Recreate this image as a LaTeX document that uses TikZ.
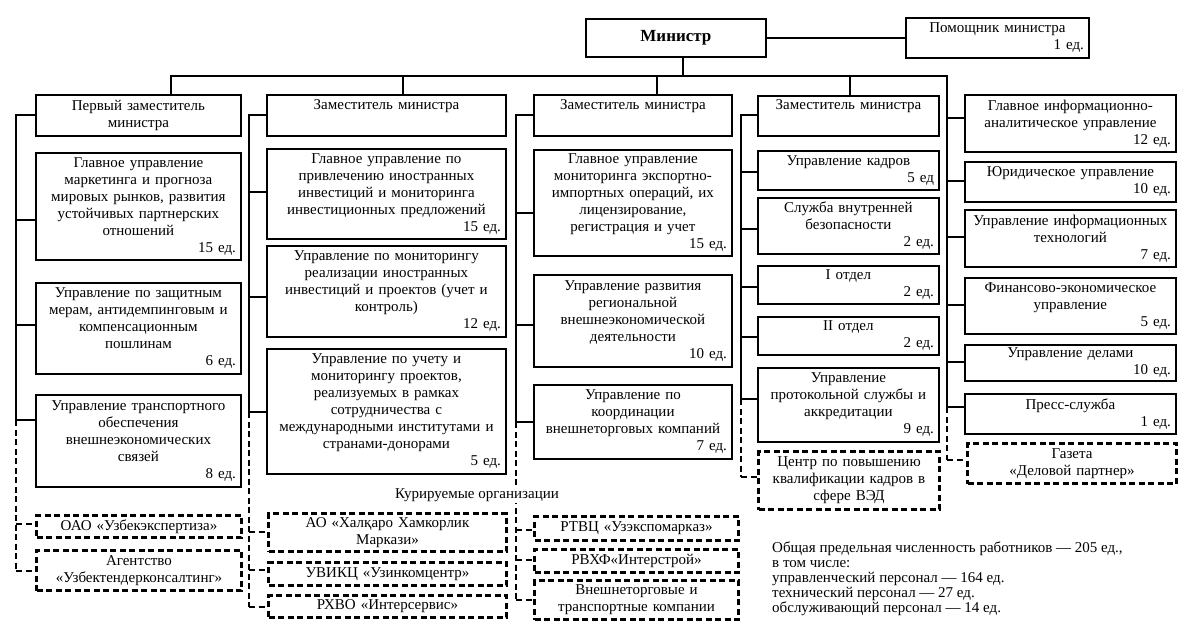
\documentclass[tikz,border=0pt]{standalone}
\usepackage{fontspec}
\setmainfont{Liberation Serif}
\newcommand\ubox[7][bx]{\pgfmathsetmacro\myBW{#4-#2}\pgfmathsetmacro\myBH{#5-#3}\pgfmathsetmacro\myTW{#4-#2-10}%
  \node[#1, minimum width=\myBW pt, minimum height=\myBH pt, text width=\myTW pt] (#6) at (#2,#3) {#7};}
\newcommand\edl[1]{\\\hspace*{0pt plus 1filll}#1}
\newcommand\hook[4][ln]{\coordinate (#2) at (#3); \draw[#1] (#2) -- (#2 -| #4.west);}
\begin{document}
\begin{tikzpicture}[x=1pt,y=-1pt]
\tikzset{
 ln/.style={line width=1.8pt, line cap=rect},
 dl/.style={line width=2.6pt, dash pattern=on 6pt off 3.5pt},
 bx/.style={draw, line width=1.8pt, anchor=north west, inner sep=0pt, align=center, font=\fontsize{15}{17}\selectfont},
 dbx/.style={bx, line width=3pt, dash pattern=on 6pt off 3.5pt},
}
\fill[white] (0,0) rectangle (1193,640);
\useasboundingbox (0,0) rectangle (1193,640);

% top
\ubox{585}{18}{765}{56}{min}{\fontsize{17}{19}\selectfont\bfseries Министр}
\ubox{905}{17}{1088}{57}{pom}{Помощник министра\edl{1 ед.}}
\draw[ln] (min.east) -- (pom.west);

% column 1
\ubox{35}{94}{240}{135}{h1}{Первый заместитель\\министра}
\ubox{35}{152}{240}{259}{b11}{Главное управление\\маркетинга и прогноза\\мировых рынков, развития\\устойчивых партнерских\\отношений\edl{15 ед.}}
\ubox{35}{282}{240}{373}{b12}{Управление по защитным\\мерам, антидемпинговым и\\компенсационным\\пошлинам\edl{6 ед.}}
\ubox{35}{394}{240}{486}{b13}{Управление транспортного\\обеспечения\\внешнеэкономических\\связей\edl{8 ед.}}
\ubox[dbx]{35}{514}{240}{536}{d11}{ОАО «Узбекэкспертиза»}
\ubox[dbx]{35}{549}{240}{589}{d12}{Агентство\\«Узбектендерконсалтинг»}

% column 2
\ubox{266}{94}{505}{135}{h2}{Заместитель министра\\\strut}
\ubox{266}{148}{505}{238}{b21}{Главное управление по\\привлечению иностранных\\инвестиций и мониторинга\\инвестиционных предложений\edl{15 ед.}}
\ubox{266}{245}{505}{336}{b22}{Управление по мониторингу\\реализации иностранных\\инвестиций и проектов (учет и\\контроль)\edl{12 ед.}}
\ubox{266}{348}{505}{473}{b23}{Управление по учету и\\мониторингу проектов,\\реализуемых в рамках\\сотрудничества с\\международными институтами и\\странами-донорами\edl{5 ед.}}
\ubox[dbx]{267}{512}{505}{550}{d21}{АО «Халқаро Хамкорлик\\Маркази»}
\ubox[dbx]{267}{561}{505}{584}{d22}{УВИКЦ «Узинкомцентр»}
\ubox[dbx]{267}{594}{505}{616}{d23}{РХВО «Интерсервис»}

% column 3
\ubox{533}{94}{731}{135}{h3}{Заместитель министра\\\strut}
\ubox{533}{149}{731}{255}{b31}{Главное управление\\мониторинга экспортно-\\импортных операций, их\\лицензирование,\\регистрация и учет\edl{15 ед.}}
\ubox{533}{274}{731}{366}{b32}{Управление развития\\региональной\\внешнеэкономической\\деятельности\edl{10 ед.}}
\ubox{533}{384}{731}{458}{b33}{Управление по\\координации\\внешнеторговых компаний\edl{7 ед.}}
\ubox[dbx]{533}{515}{737}{539}{d31}{РТВЦ «Узэкспомарказ»}
\ubox[dbx]{533}{548}{737}{571}{d32}{РВХФ«Интерстрой»}
\ubox[dbx]{533}{579}{737}{618}{d33}{Внешнеторговые и\\транспортные компании}

% column 4
\ubox{757}{95}{938}{135}{h4}{Заместитель министра\\\strut}
\ubox{757}{150}{938}{189}{b41}{Управление кадров\edl{5 ед}}
\ubox{757}{197}{938}{253}{b42}{Служба внутренней\\безопасности\edl{2 ед.}}
\ubox{757}{265}{938}{303}{b43}{I отдел\edl{2 ед.}}
\ubox{757}{316}{938}{354}{b44}{II отдел\edl{2 ед.}}
\ubox{757}{367}{938}{441}{b45}{Управление\\протокольной службы и\\аккредитации\edl{9 ед.}}
\ubox[dbx]{757}{450}{938}{508}{d41}{Центр по повышению\\квалификации кадров в\\сфере ВЭД}

% right column
\ubox{964}{94}{1175}{151}{r1}{Главное информационно-\\аналитическое управление\edl{12 ед.}}
\ubox{964}{161}{1175}{201}{r2}{Юридическое управление\edl{10 ед.}}
\ubox{964}{209}{1175}{266}{r3}{Управление информационных\\технологий\edl{7 ед.}}
\ubox{964}{277}{1175}{333}{r4}{Финансово-экономическое\\управление\edl{5 ед.}}
\ubox{964}{344}{1175}{380}{r5}{Управление делами\edl{10 ед.}}
\ubox{964}{393}{1175}{433}{r6}{Пресс-служба\edl{1 ед.}}
\ubox[dbx]{966}{442}{1175}{482}{dr}{Газета\\«Деловой партнер»}

% bus
\coordinate (md) at (683,76);
\coordinate (bw) at (171,76);
\coordinate (be) at (947,76);
\draw[ln] (md) -- (md |- min.south);
\draw[ln] (bw) -- (be);
\coordinate (t1) at (171,76); \draw[ln] (t1) -- (t1 |- h1.north);
\coordinate (t2) at (403,76); \draw[ln] (t2) -- (t2 |- h2.north);
\coordinate (t3) at (657,76); \draw[ln] (t3) -- (t3 |- h3.north);
\coordinate (t4) at (850,76); \draw[ln] (t4) -- (t4 |- h4.north);

% spine column 1
\coordinate (s1t) at (16,115); \coordinate (s1m) at (16,420); \coordinate (s1b) at (16,571);
\draw[ln] (s1t) -- (s1m); \draw[dl] (s1m) -- (s1b);
\hook{k10}{16,115}{h1}
\hook{k11}{16,220}{b11}
\hook{k12}{16,325}{b12}
\hook{k13}{16,420}{b13}
\hook[dl]{k14}{16,524}{d11}
\hook[dl]{k15}{16,571}{d12}

% spine column 2
\coordinate (s2t) at (249,115); \coordinate (s2m) at (249,412); \coordinate (s2b) at (249,607);
\draw[ln] (s2t) -- (s2m); \draw[dl] (s2m) -- (s2b);
\hook{k20}{249,115}{h2}
\hook{k21}{249,192}{b21}
\hook{k22}{249,297}{b22}
\hook{k23}{249,412}{b23}
\hook[dl]{k24}{249,532}{d21}
\hook[dl]{k25}{249,570}{d22}
\hook[dl]{k26}{249,607}{d23}

% spine column 3
\coordinate (s3t) at (516,115); \coordinate (s3m) at (516,422); \coordinate (s3b) at (516,600);
\draw[ln] (s3t) -- (s3m); \draw[dl] (s3m) -- (s3b);
\hook{k30}{516,115}{h3}
\hook{k31}{516,213}{b31}
\hook{k32}{516,325}{b32}
\hook{k33}{516,422}{b33}
\hook[dl]{k34}{516,530}{d31}
\hook[dl]{k35}{516,560}{d32}
\hook[dl]{k36}{516,600}{d33}

% spine column 4
\coordinate (s4t) at (741,115); \coordinate (s4m) at (741,399); \coordinate (s4b) at (741,477);
\draw[ln] (s4t) -- (s4m); \draw[dl] (s4m) -- (s4b);
\hook{k40}{741,115}{h4}
\hook{k41}{741,172}{b41}
\hook{k42}{741,229}{b42}
\hook{k43}{741,287}{b43}
\hook{k44}{741,337}{b44}
\hook{k45}{741,399}{b45}
\hook[dl]{k46}{741,477}{d41}

% right spine
\coordinate (srm) at (947,407); \coordinate (srb) at (947,460);
\draw[ln] (be) -- (srm); \draw[dl] (srm) -- (srb);
\hook{k51}{947,118}{r1}
\hook{k52}{947,181}{r2}
\hook{k53}{947,237}{r3}
\hook{k54}{947,305}{r4}
\hook{k55}{947,362}{r5}
\hook{k56}{947,407}{r6}
\hook[dl]{k57}{947,460}{dr}

% labels
\node[fill=white, inner sep=1.5pt, font=\fontsize{15}{17}\selectfont] (kur) at (477,495) {Курируемые организации};
\node[anchor=north west, align=left, inner sep=0pt, font=\fontsize{15}{15}\selectfont] (sum) at (772,542)
 {Общая предельная численность работников — 205 ед.,\\в том числе:\\управленческий персонал — 164 ед.\\технический персонал — 27 ед.\\обслуживающий персонал — 14 ед.};
\end{tikzpicture}
\end{document}
